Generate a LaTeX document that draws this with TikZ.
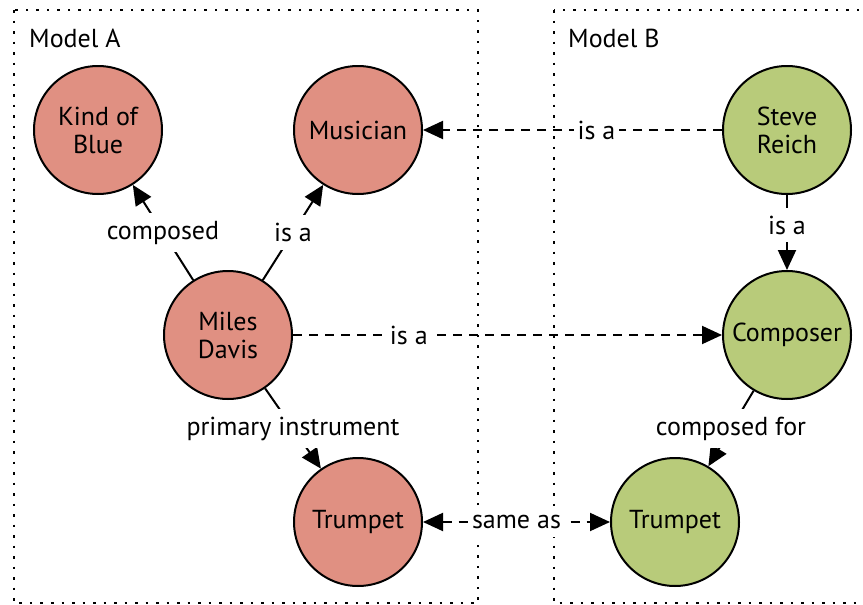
\documentclass[tikz,border=0pt]{standalone}
\usepackage{fontspec}
\setmainfont{PT Sans}
\usetikzlibrary{arrows.meta}
\definecolor{conceptA}{RGB}{224,144,130}
\definecolor{conceptB}{RGB}{184,203,122}
\tikzset{
  concept/.style={circle, draw, line width=2pt, minimum size=128pt, inner sep=0pt,
    align=center, font=\fontsize{26}{28}\selectfont},
  conceptA/.style={concept, fill=conceptA},
  conceptB/.style={concept, fill=conceptB},
  tip/.tip={Triangle[length=20pt,width=18pt]},
  rel/.style={line width=2pt, -tip},
  lbl/.style={fill=white, inner xsep=4pt, inner ysep=8pt, font=\fontsize{26}{28}\selectfont},
  frame/.style={line width=2.5pt, dash pattern=on 2.5pt off 8pt},
  framelabel/.style={anchor=base west, inner sep=0pt, font=\fontsize{26}{28}\selectfont},
  dashrel/.style={dash pattern=on 9pt off 7pt}
}
\begin{document}
\begin{tikzpicture}[x=1pt,y=-1pt]
  \useasboundingbox (0,0) rectangle (863,605);
  \clip (0,0) rectangle (863,605);

  % model frames
  \draw[frame] (14,10) rectangle (478,603);
  \draw[frame] (554,10) rectangle (880,603);
  \node[framelabel] (la) at (29,47) {Model A};
  \node[framelabel] (lb) at (568,47) {Model B};

  % model A concepts
  \node[conceptA] (kob) at (98,130) {Kind of\\Blue};
  \node[conceptA] (mus) at (358,130) {Musician};
  \node[conceptA] (miles) at (228,335) {Miles\\Davis};
  \node[conceptA] (tra) at (358,522) {Trumpet};

  % model B concepts
  \node[conceptB] (steve) at (787,130) {Steve\\Reich};
  \node[conceptB] (comp) at (787,335) {Composer};
  \node[conceptB] (trb) at (675,522) {Trumpet};

  % relations within model A
  \draw[rel] (miles) -- node[lbl] {composed} (kob);
  \draw[rel] (miles) -- node[lbl] {is a} (mus);
  \draw[rel] (miles) -- node[lbl] {primary instrument} (tra);

  % relations within model B
  \draw[rel] (steve) -- node[lbl, pos=0.4] {is a} (comp);
  \draw[rel] (comp) -- node[lbl] {composed for} (trb);

  % cross-model relations
  \draw[rel, dashrel] (miles) -- node[lbl, pos=0.27] {is a} (comp);
  \draw[rel, dashrel] (steve) -- node[lbl, pos=0.42] {is a} (mus);
  \draw[rel, tip-tip, dashrel] (tra) -- node[lbl] {same as} (trb);
\end{tikzpicture}
\end{document}
